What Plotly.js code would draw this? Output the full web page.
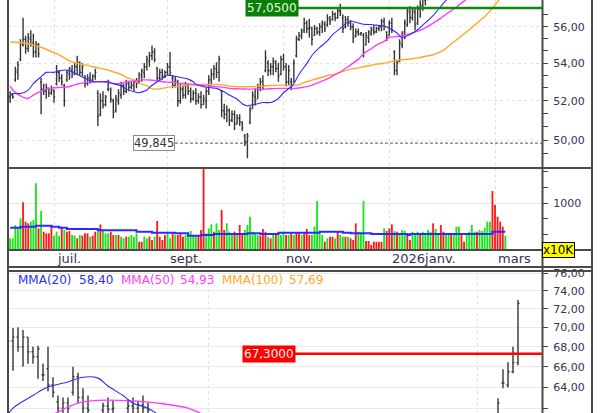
<!DOCTYPE html>
<html><head><meta charset="utf-8">
<script src="https://cdn.plot.ly/plotly-3.0.1.min.js"></script>
<style>html,body{margin:0;padding:0;background:#fff;}#chart{width:600px;height:413px;}</style>
</head><body><div id="chart"></div>
<script>
// ---------- top panel: daily OHLC (bar index 0 = early June 2025) ----------
const opens = [52.2,52.3,53.1,53.5,54.2,55.0,55.3,54.8,55.3,55.1,54.6,55.0,53.0,52.6,52.5,52.6,52.4,52.5,52.9,53.5,53.2,52.8,53.1,53.4,53.6,53.5,53.8,54.0,53.5,53.3,52.9,53.2,53.1,53.3,52.4,51.3,52.0,51.8,52.6,52.6,52.0,51.5,52.0,52.3,52.8,52.5,52.9,52.7,52.8,53.0,53.0,53.3,53.5,53.8,54.1,54.4,54.6,53.7,53.2,53.5,53.3,53.5,53.8,53.2,52.8,53.0,52.0,52.6,52.3,52.8,52.5,52.1,52.4,52.0,52.2,51.8,52.0,52.5,53.1,53.4,53.7,53.5,52.5,51.5,51.3,51.5,51.0,51.3,50.8,51.1,50.9,50.2,49.9,50.9,51.6,52.2,52.1,52.7,53.0,53.6,54.0,53.6,53.8,54.0,53.7,53.4,54.2,53.8,53.0,53.0,53.0,54.4,55.3,55.5,55.8,56.2,55.9,55.9,55.5,55.9,55.7,56.0,56.1,56.1,56.4,56.4,56.7,56.5,56.9,56.5,56.0,56.4,56.2,56.0,55.5,55.7,55.6,55.5,55.0,55.4,55.6,55.8,55.7,55.9,56.0,56.3,55.7,55.5,56.2,54.6,53.6,54.1,55.0,55.7,56.1,56.8,56.5,56.8,56.2,57.0,57.2,57.5,57.9,58.4,59.0,59.5,59.9,60.3,60.6,60.9,61.2,61.0,61.4,61.7,62.0,61.6,61.9,62.3,62.5,62.8,62.4,62.7,63.0,62.9,63.2,63.5,63.3,62.6,62.5,64.4,65.5,67.3,71.0];
const highs = [52.5,52.4,53.8,54.1,55.3,56.5,55.5,55.65,55.8,55.6,55.2,55.1,53.2,52.9,52.9,52.7,52.8,52.6,53.9,53.6,53.4,52.9,53.6,53.8,53.9,54.0,54.4,54.1,54.0,53.35,53.4,53.5,53.4,53.7,52.55,52.4,52.5,52.3,53.1,52.7,52.1,52.3,52.6,53.0,52.9,53.1,53.0,53.0,53.1,53.2,53.5,53.7,54.0,54.4,54.6,54.95,54.8,53.8,53.7,53.7,53.6,54.0,54.6,53.35,53.3,53.1,52.9,52.8,53.0,52.9,52.7,52.55,52.65,52.4,52.5,52.3,52.65,53.35,53.7,53.9,54.05,54.4,52.55,51.85,51.75,51.6,51.5,51.5,51.3,51.3,50.95,50.3,50.35,51.7,52.5,52.65,52.9,53.2,53.35,54.7,54.15,54.0,54.3,54.15,54.0,54.4,54.5,54.0,53.9,53.2,54.2,55.5,55.7,55.9,56.5,56.35,56.45,56.0,56.1,56.0,56.2,56.35,56.3,56.7,56.6,56.9,56.8,57.05,57.3,56.7,56.6,56.6,56.35,56.2,55.9,55.9,55.7,55.65,55.7,55.8,56.0,56.1,56.0,56.1,56.45,56.5,55.75,56.35,56.5,54.7,54.15,55.3,55.75,56.4,57.05,57.15,57.05,57.05,57.2,57.5,57.8,58.0,58.3,59.2,59.8,60.2,60.6,60.9,61.2,61.5,61.8,61.6,62.0,62.3,62.5,62.2,62.6,62.9,63.1,63.2,63.0,63.3,63.5,63.4,63.8,64.0,63.9,63.0,65.8,66.5,68.0,73.0,72.0];
const lows = [51.9,52.1,53.0,53.1,54.1,54.9,54.5,54.6,54.9,54.3,54.3,54.3,51.3,52.3,52.1,52.2,52.3,51.9,52.8,53.0,52.8,51.7,53.0,53.1,53.2,53.35,53.4,53.35,53.3,52.7,52.8,52.9,53.0,53.1,50.7,51.2,51.6,51.7,52.5,51.9,51.1,51.4,51.8,52.1,52.3,52.4,52.5,52.6,52.5,52.65,52.9,53.0,53.2,53.6,53.8,54.15,54.05,53.0,53.0,53.1,53.2,53.35,53.3,52.65,52.7,51.7,51.85,52.1,52.1,52.3,51.9,52.0,51.8,51.85,51.6,51.8,51.6,52.3,52.8,53.1,53.2,53.0,51.15,51.05,50.9,50.7,50.9,50.5,50.8,50.7,50.45,49.7,49.1,50.8,51.6,51.75,52.1,52.5,52.55,53.5,53.3,53.35,53.35,53.5,53.0,53.35,53.6,52.75,52.8,52.55,53.0,54.3,55.2,55.3,55.65,55.65,55.4,54.95,55.5,55.55,55.5,55.65,55.7,56.0,56.1,56.35,56.3,56.45,56.6,55.65,55.9,56.0,55.8,55.1,55.4,55.5,55.5,54.3,54.95,55.1,55.5,55.55,55.65,55.75,55.75,55.8,55.2,55.5,55.65,53.35,53.35,54.05,54.8,55.3,56.0,56.2,56.35,55.8,56.1,56.5,56.9,57.2,57.5,58.2,58.7,59.1,59.5,59.8,60.1,60.4,60.6,60.5,60.9,61.2,61.3,61.1,61.5,61.8,62.0,62.1,61.9,62.2,62.4,62.3,62.7,62.9,62.8,61.5,62.4,63.9,65.3,66.1,69.5];
const closes = [52.3,52.2,53.6,53.9,55.1,55.3,54.8,55.4,55.0,54.6,55.0,54.5,52.6,52.5,52.7,52.4,52.6,52.2,53.5,53.2,53.0,52.0,53.5,53.7,53.4,53.8,54.0,53.5,53.8,52.9,53.2,53.1,53.3,53.5,51.2,52.0,51.8,52.2,52.9,52.1,51.4,52.1,52.4,52.8,52.5,52.9,52.7,52.8,53.0,52.9,53.4,53.6,53.8,54.2,54.4,54.6,54.2,53.2,53.5,53.3,53.5,53.8,53.5,52.8,53.1,52.0,52.6,52.3,52.8,52.5,52.1,52.4,52.0,52.2,51.8,52.1,52.5,53.1,53.4,53.7,53.5,54.2,51.5,51.3,51.5,51.0,51.3,50.8,51.1,50.9,50.6,49.9,50.2,51.5,52.3,52.0,52.7,53.0,52.8,54.3,53.6,53.8,54.1,53.7,53.3,54.2,53.8,53.0,53.6,52.8,54.0,55.3,55.5,55.7,56.2,55.9,56.0,55.3,55.9,55.7,56.0,56.2,55.9,56.5,56.3,56.7,56.5,56.9,56.8,55.9,56.4,56.2,56.0,55.4,55.7,55.6,55.65,54.6,55.5,55.7,55.9,55.7,55.9,56.0,56.3,56.0,55.4,56.2,55.8,53.6,54.0,55.1,55.6,56.2,56.9,56.5,56.9,56.1,57.0,57.2,57.6,57.9,58.1,59.0,59.5,59.9,60.3,60.6,60.9,61.2,61.0,61.4,61.7,62.0,61.6,61.9,62.3,62.5,62.8,62.4,62.7,63.0,62.9,63.2,63.5,63.3,63.7,62.5,64.4,65.5,67.3,72.5,71.5];
const dayIdx = opens.map((_, i) => i);

// moving averages (read at sample bars)
const maIdx   = [0,1,4,7,9,12,14,17,19,22,24,27,30,32,35,38,40,43,45,48,50,53,54,57,59,61,63,66,69,71,72,75,78,80,83,85,88,90,92,93,96,98,101,104,106,109,110,112,115,117,120,123,125,128,131,132,135,137,140,142,145,147,150,152,155,158,160,164,167,169,172,176,178,185,189,192];
const mma20   = [52.30,52.38,52.38,52.56,52.90,53.27,53.50,53.50,53.58,53.62,53.53,53.32,53.12,53.00,53.00,53.00,52.90,52.79,52.61,52.47,52.42,52.56,52.70,53.00,53.18,53.35,53.32,53.23,53.14,53.00,52.86,52.74,52.68,52.65,52.47,52.30,52.08,51.85,51.73,51.77,51.85,51.91,51.91,52.12,52.42,52.75,52.90,53.40,53.97,54.41,54.85,55.21,55.56,55.91,56.27,56.32,56.21,56.14,56.12,56.09,56.04,55.91,55.65,55.38,55.56,55.83,56.09,56.62,57.15,57.50,58.10,59.00,59.50,61.00,62.00,62.80];
const mma50   = [52.79,52.56,52.26,52.12,52.30,52.51,52.61,52.68,52.70,52.72,52.79,52.91,52.97,53.00,53.00,52.97,52.91,52.91,53.00,53.04,53.09,53.10,53.09,53.05,53.00,52.98,52.97,52.91,52.89,52.86,52.84,52.80,52.76,52.74,52.70,52.65,52.63,52.62,52.61,52.61,52.61,52.61,52.63,52.65,52.65,52.65,52.65,52.67,52.74,52.82,52.98,53.15,53.30,53.52,53.80,53.90,54.20,54.50,54.78,54.98,55.18,55.40,55.45,55.47,55.60,55.75,55.86,56.20,56.48,56.70,57.00,57.45,57.70,58.60,59.20,59.60];
const mma100  = [55.15,55.15,55.12,55.05,54.98,54.86,54.75,54.56,54.45,54.20,54.06,53.95,53.88,53.80,53.71,53.62,53.53,53.39,53.23,53.09,52.91,52.79,52.68,52.61,52.65,52.70,52.74,52.78,52.82,52.84,52.85,52.86,52.86,52.86,52.82,52.77,52.74,52.74,52.74,52.74,52.75,52.77,52.80,52.82,52.82,52.79,52.80,52.85,53.00,53.09,53.20,53.33,53.38,53.50,53.63,53.66,53.74,53.80,53.88,53.94,53.99,54.05,54.15,54.18,54.22,54.28,54.33,54.45,54.62,54.80,55.15,55.60,55.83,56.71,57.42,57.90];

// ---------- volume (x10K) ----------
const volume = [248,248,532,461,674,1014,603,567,603,638,
1419,461,830,390,355,355,532,305,390,305,
497,426,390,404,319,305,248,319,305,355,
355,284,305,390,426,546,426,355,355,390,
319,319,319,284,248,284,284,319,284,355,
177,177,284,248,284,213,284,617,284,213,
319,390,248,355,319,319,355,284,319,355,
404,319,319,284,426,2100,355,461,546,390,
567,426,851,426,567,390,355,390,355,532,
355,426,532,709,390,355,319,305,447,390,
284,248,319,355,355,319,390,319,319,355,
319,355,355,319,355,447,319,319,497,1043,
355,319,177,248,284,284,248,390,319,284,
284,284,248,213,567,390,355,1043,192,192,
106,177,177,177,177,461,404,461,546,404,
390,319,426,404,305,213,390,355,390,319,
390,355,426,390,567,447,319,532,390,319,
319,319,355,497,497,355,177,355,390,532,
390,390,426,404,475,603,603,1255,958,709,
603,497,305];
const volumeDirection = ("GGGGGRRRGG"+"GRGRRRRGGG"+"RGRRGGRGRR"+"RGRRGRGGGR"+"RGRGGRGGGG"+"RRGGRRGRRR"+"RGGRGRRRGG"+"GGGRRRGGGR"+"GGRRGGGRGR"+"RGGGGGGRRR"+"GRGRGGGRGR"+"GRRGRRRGGG"+"GGRGRRGRGG"+"RGRRRGGGRR"+"RRRRRGRRRG"+"RGGGRRGGGR"+"GGGGRGGRRG"+"GRGGGRRGGG"+"GRGGGGGRRR"+"RRG").split("");
const volMaIdx = [0,4,10,16,19,22,34,35,49,55,64,69,74,79,92,97,104,120,129,132,140,154,155,187,192];
const volMa    = [475,497,518,497,475,447,426,418,390,369,355,305,319,340,355,340,369,390,369,355,340,319,340,390,390];

// ---------- x axis months ----------
const monthLabels = ["juil.", "sept.", "nov.", "2026janv.", "mars"];
const monthStartIdx = [17, 61, 106, 147, 188];

// ---------- price markers ----------
const lastHighLevel = 57.05, lastHighText = "57,0500";
const periodLowLevel = 49.845, periodLowText = "49,845";
const bottomLevel = 67.30, bottomLevelText = "67,3000";

// ---------- bottom panel ----------
const bIdx   = [0,1,2,3,4,5,6,7,8,9,10,11,12,13,14,15,16,19,20,21,24,25,26,27,28,98,99,100,101,102];
const bOpen  = [66.0,68.6,69.0,68.0,69.0,67.5,67.0,65.2,65.8,64.2,62.6,62.0,62.5,63.5,65.0,63.0,62.0,61.8,62.2,61.9,62.0,62.2,62.0,62.3,62.0,61.0,64.4,64.2,65.5,66.4];
const bHigh  = [69.0,69.95,70.05,69.75,69.0,68.0,68.1,66.3,68.0,64.96,63.2,63.0,63.0,66.0,65.4,63.9,63.2,62.5,63.0,62.7,62.85,63.0,62.7,63.2,62.5,62.94,65.75,66.45,68.0,72.97];
const bLow   = [65.4,65.6,67.5,66.0,66.3,66.3,64.8,64.6,63.6,63.0,61.0,61.0,61.2,63.2,62.5,61.3,61.3,61.2,61.2,61.2,61.2,61.2,61.2,61.2,61.2,60.5,63.9,63.97,65.36,66.15];
const bClose = [68.6,69.0,68.0,69.0,67.5,67.0,67.8,65.2,64.2,63.5,62.0,62.5,62.0,65.0,63.0,62.0,61.8,62.2,61.9,62.0,62.2,62.0,62.3,62.0,61.8,62.5,64.4,65.5,66.4,72.6];
const bMa20Idx = [0,1,5,8,12,15,18,20,23,25,28,30];
const bMa20    = [61.4,62.0,63.2,64.0,64.5,64.96,64.87,64.1,63.2,62.47,62.0,61.4];
const bMa50Idx = [9,14,18,25,30,36,39];
const bMa50    = [61.4,62.47,62.73,62.68,62.47,62.0,61.4];
const legendNames = ["MMA(20)", "MMA(50)", "MMA(100)"];
const legendValues = ["58,40", "54,93", "57,69"];

// ---------- helpers / styling ----------
const W = 600, H = 413, L = 8, R = 542;
const px = v => (v - L) / (R - L);      // pixel x -> paper x
const py = v => 1 - v / H;              // pixel y -> paper y
const BLUE = "#2b2bff", MAG = "#ff3cff", ORG = "#ffa928", BAR = "#353535";
const FONT = "DejaVu Sans", AXC = "#333355";

const traces = [
  {type:"ohlc", x:dayIdx, open:opens, high:highs, low:lows, close:closes, xaxis:"x", yaxis:"y",
   increasing:{line:{color:BAR, width:1.4}}, decreasing:{line:{color:BAR, width:1.4}}, tickwidth:0.45, hoverinfo:"skip"},
  {type:"scatter", mode:"lines", x:maIdx, y:mma100, xaxis:"x", yaxis:"y", line:{color:ORG, width:1.4, shape:"spline", smoothing:0.6}, hoverinfo:"skip"},
  {type:"scatter", mode:"lines", x:maIdx, y:mma50, xaxis:"x", yaxis:"y", line:{color:MAG, width:1.4, shape:"spline", smoothing:0.6}, hoverinfo:"skip"},
  {type:"scatter", mode:"lines", x:maIdx, y:mma20, xaxis:"x", yaxis:"y", line:{color:BLUE, width:1.1, shape:"spline", smoothing:0.6}, hoverinfo:"skip"},
  {type:"bar", x:dayIdx, y:volume, xaxis:"x2", yaxis:"y2", width:0.72,
   marker:{color:volumeDirection.map(d => d === "G" ? "#19e619" : "#ff1a1a"), line:{width:0}}, hoverinfo:"skip"},
  {type:"scatter", mode:"lines", x:volMaIdx, y:volMa, xaxis:"x2", yaxis:"y2", line:{color:BLUE, width:2, shape:"hv"}, hoverinfo:"skip"},
  {type:"ohlc", x:bIdx, open:bOpen, high:bHigh, low:bLow, close:bClose, xaxis:"x3", yaxis:"y3",
   increasing:{line:{color:BAR, width:1.4}}, decreasing:{line:{color:BAR, width:1.4}}, tickwidth:0.3, hoverinfo:"skip"},
  {type:"scatter", mode:"lines", x:bMa50Idx, y:bMa50, xaxis:"x3", yaxis:"y3", line:{color:MAG, width:1.4, shape:"spline"}, hoverinfo:"skip"},
  {type:"scatter", mode:"lines", x:bMa20Idx, y:bMa20, xaxis:"x3", yaxis:"y3", line:{color:BLUE, width:1.1, shape:"spline"}, hoverinfo:"skip"}
];

const xRange = [(L - 10.16) / 2.579, (R - 10.16) / 2.579];
const xCommon = {range:xRange, showticklabels:false, ticks:"", tickvals:monthStartIdx, showgrid:true,
  gridcolor:"#e2e2e2", griddash:"dot", gridwidth:1, zeroline:false, showline:false, fixedrange:true, rangeslider:{visible:false}};
const yTickFont = {family:FONT, size:11, color:AXC};
const yCommon = {side:"right", ticks:"outside", ticklen:5, tickcolor:"#444", tickwidth:1, tickfont:yTickFont,
  zeroline:false, showline:false, fixedrange:true, ticklabelstandoff:3};

const fmt = v => v.toFixed(2).replace(".", ",");
const topTicks = [50, 52, 54, 56], botTicks = [62, 64, 66, 68, 70, 72, 74, 76];

const layout = {
  width:W, height:H, margin:{l:L, r:W - R, t:0, b:0, pad:0},
  paper_bgcolor:"#fff", plot_bgcolor:"#fff", showlegend:false, hovermode:false,
  font:{family:FONT, size:11, color:AXC}, separators:", ",
  xaxis:Object.assign({}, xCommon, {anchor:"y"}),
  xaxis2:Object.assign({}, xCommon, {anchor:"y2"}),
  xaxis3:{range:[0, (R - 8) / 5], showticklabels:false, ticks:"", tickvals:[40, 93.8], showgrid:true,
    gridcolor:"#e2e2e2", griddash:"dot", zeroline:false, showline:false, anchor:"y3", fixedrange:true, rangeslider:{visible:false}},
  yaxis:Object.assign({}, yCommon, {anchor:"x", type:"log", domain:[py(168), 1],
    range:[Math.log10(48.62), Math.log10(57.515)], tickvals:topTicks, ticktext:topTicks.map(fmt),
    showgrid:true, gridcolor:"#e4e4e4", griddash:"dot",
    minor:{tickmode:"array", tickvals:[49.33,50.67,51.33,52.67,53.33,54.67,55.33,56.67], ticks:"outside", ticklen:5, tickcolor:"#444", showgrid:false}}),
  yaxis2:Object.assign({}, yCommon, {anchor:"x2", domain:[py(250), py(168)], range:[0, 1745],
    tickvals:[1000], ticktext:["1000"], showgrid:true, gridcolor:"#e8e8e8",
    minor:{tickmode:"array", tickvals:[333,667,1333,1667], ticks:"outside", ticklen:5, tickcolor:"#444", showgrid:false}}),
  yaxis3:Object.assign({}, yCommon, {anchor:"x3", type:"log", domain:[0, py(271)],
    range:[Math.log10(61.55), Math.log10(76.23)], tickvals:botTicks, ticktext:botTicks.map(fmt),
    showgrid:true, gridcolor:"#eaeaea"}),
  shapes:[],
  annotations:[]
};

// frame lines
const FR = "#4a4a4a";
const xRight = px(592);
layout.shapes.push(
  {type:"line", xref:"paper", yref:"paper", x0:px(8), x1:px(8), y0:0, y1:1, line:{color:FR, width:2}},
  {type:"line", xref:"paper", yref:"paper", x0:px(542.5), x1:px(542.5), y0:0, y1:1, line:{color:FR, width:2}},
  {type:"line", xref:"paper", yref:"paper", x0:xRight, x1:xRight, y0:0, y1:1, line:{color:FR, width:2}}
);
[168, 250, 267, 271].forEach(v => layout.shapes.push(
  {type:"line", xref:"paper", yref:"paper", x0:px(7), x1:px(593), y0:py(v), y1:py(v), line:{color:FR, width:2}}));
// price level lines
layout.shapes.push(
  {type:"line", xref:"paper", yref:"y", x0:px(297), x1:px(542), y0:lastHighLevel, y1:lastHighLevel, line:{color:"#0c8a0c", width:2.5}},
  {type:"line", xref:"paper", yref:"y", x0:px(175), x1:px(542), y0:periodLowLevel, y1:periodLowLevel, line:{color:"#555", width:1, dash:"3px,2px"}},
  {type:"line", xref:"paper", yref:"y3", x0:px(295), x1:px(542), y0:bottomLevel, y1:bottomLevel, line:{color:"#ff0000", width:2.5}}
);

// labels
layout.annotations.push(
  {xref:"paper", yref:"y", x:px(271.5), y:Math.log10(lastHighLevel), xanchor:"center", yanchor:"middle", text:lastHighText, showarrow:false,
   bgcolor:"#0a7d0a", borderpad:1, font:{family:FONT, size:12, color:"#e4ffd8"}},
  {xref:"paper", yref:"y", x:px(154), y:Math.log10(periodLowLevel), xanchor:"center", yanchor:"middle", text:periodLowText, showarrow:false,
   bgcolor:"#fff", bordercolor:"#8a8a8a", borderwidth:1, borderpad:0, font:{family:FONT, size:11.5, color:"#333"}},
  {xref:"paper", yref:"y3", x:px(269), y:Math.log10(bottomLevel), xanchor:"center", yanchor:"middle", text:bottomLevelText, showarrow:false,
   bgcolor:"#ff0000", borderpad:1, font:{family:FONT, size:12, color:"#fff0f0"}},
  {xref:"paper", yref:"paper", x:px(558.5), y:py(250), xanchor:"center", yanchor:"middle", text:"x10K", showarrow:false,
   bgcolor:"#ffff00", bordercolor:"#000", borderwidth:1, borderpad:0, font:{family:FONT, size:12, color:"#000"}}
);
monthLabels.forEach((m, k) => layout.annotations.push(
  {xref:"x", yref:"paper", x:monthStartIdx[k] + 0.3, y:py(258.5), xanchor:"left", yanchor:"middle", text:m,
   showarrow:false, font:{family:FONT, size:13, color:AXC}}));
const legendColors = [BLUE, MAG, ORG];
const legendX = [[16, 77], [119, 178], [220, 287]];
legendNames.forEach((n, k) => {
  layout.annotations.push(
    {xref:"paper", yref:"paper", x:px(legendX[k][0]), y:py(280), xanchor:"left", yanchor:"middle", text:n, showarrow:false,
     font:{family:FONT, size:12, color:legendColors[k]}},
    {xref:"paper", yref:"paper", x:px(legendX[k][1]), y:py(280), xanchor:"left", yanchor:"middle", text:legendValues[k], showarrow:false,
     font:{family:FONT, size:12, color:legendColors[k]}});
});

Plotly.newPlot("chart", traces, layout, {staticPlot:true, displayModeBar:false});
</script>
</body></html>
